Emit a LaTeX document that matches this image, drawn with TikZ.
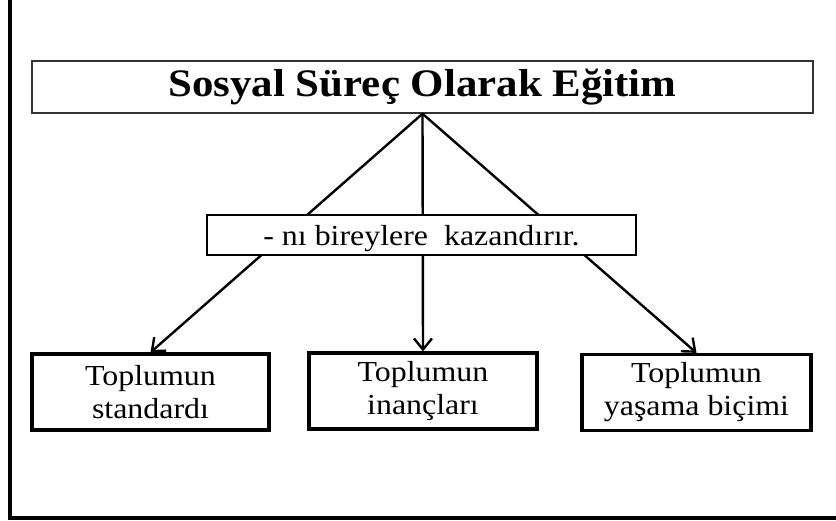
\documentclass[tikz,border=0pt]{standalone}
\usepackage{fontspec}
\setmainfont{Liberation Serif}[FakeStretch=1.1]
\usetikzlibrary{arrows.meta,positioning}

\begin{document}
\begin{tikzpicture}
		[
			x=1pt, y=-1pt,
			align=center,
			title/.style={draw=black!80, line width=1.5pt, minimum width=781pt, minimum height=52pt, inner sep=0pt, font=\fontsize{39}{44}\selectfont\bfseries},
			middle/.style={draw, fill=white, line width=2.2pt, minimum width=429pt, minimum height=40pt, inner sep=0pt, text depth=0pt, font=\fontsize{29}{33}\selectfont},
			leaf/.style={draw, line width=3.2pt, minimum height=76pt, inner sep=0pt, font=\fontsize{29}{33}\selectfont},
			arrow/.style={-{Straight Barb[length=11pt,width=18pt]}, line width=2.4pt}
		]

		\useasboundingbox (0,0) rectangle (836,521);

		% frame
		\draw[line width=3.5pt] (10,-10) rectangle (850,518);

		% boxes
		\node[title]						(T)  at ( 422.5,  87.0 ) {Sosyal Süreç Olarak Eğitim};
		\node[leaf, minimum width=237pt]	(L1) at ( 150.5, 392.0 ) {Toplumun\\standardı};
		\node[leaf, minimum width=228pt]	(L2) at ( 423.0, 391.0 ) {Toplumun\\inançları};
		\node[leaf, minimum width=229pt]	(L3) at ( 696.5, 392.5 ) {Toplumun\\yaşama biçimi};

		% connectors
		\foreach \to in {L1,L2,L3}
		\draw[arrow] (T.south) -- (\to.north);

		% label over the connectors
		\node[middle]						(M)  at ( 421.5, 235.0 ) {- nı bireylere\ \ kazandırır.};

	\end{tikzpicture}
\end{document}
